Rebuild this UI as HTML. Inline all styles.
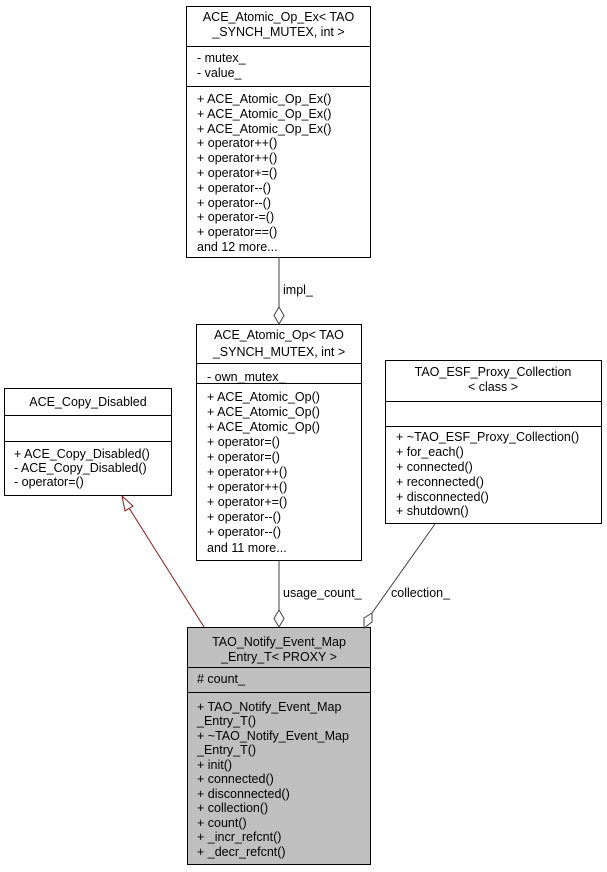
<!DOCTYPE html>
<html><head><meta charset="utf-8"><style>
html,body{margin:0;padding:0;background:#fff;}
svg{display:block;}
text{font-family:"Liberation Sans",Arial,sans-serif;font-size:12.5px;fill:#000;}
</style></head><body>
<svg width="607" height="872" viewBox="0 0 607 872" xmlns="http://www.w3.org/2000/svg">
<g stroke="#000" stroke-width="1" fill="#fff">
<!-- top box -->
<rect x="186.5" y="6.5" width="184" height="251"/>
<line x1="186.5" y1="46.5" x2="370.5" y2="46.5"/>
<line x1="186.5" y1="86.5" x2="370.5" y2="86.5"/>
<!-- middle box -->
<rect x="196.5" y="324.5" width="165" height="236"/>
<line x1="196.5" y1="363.5" x2="361.5" y2="363.5"/>
<line x1="196.5" y1="383.5" x2="361.5" y2="383.5"/>
<!-- copy disabled -->
<rect x="4.5" y="388.5" width="167" height="107"/>
<line x1="4.5" y1="415.5" x2="171.5" y2="415.5"/>
<line x1="4.5" y1="441.5" x2="171.5" y2="441.5"/>
<!-- proxy collection -->
<rect x="385.5" y="360.5" width="216" height="163"/>
<line x1="385.5" y1="401.5" x2="601.5" y2="401.5"/>
<line x1="385.5" y1="426.5" x2="601.5" y2="426.5"/>
<!-- bottom box -->
<rect x="187.5" y="627.5" width="183" height="237" fill="#bfbfbf"/>
<line x1="187.5" y1="667.5" x2="370.5" y2="667.5"/>
<line x1="187.5" y1="692.5" x2="370.5" y2="692.5"/>
</g>
<!-- connectors -->
<g stroke="#404040" fill="#fff" stroke-width="1">
<line x1="279" y1="257" x2="279" y2="307"/>
<polygon points="279,307 284,315.5 279,324 274,315.5"/>
<line x1="279" y1="561" x2="279" y2="610"/>
<polygon points="279,610 284,618.5 279,627 274,618.5"/>
<line x1="435" y1="524" x2="372" y2="613"/>
<polygon points="372,613 372,622 364,628 364,618"/>
</g>
<g stroke="#8b1a1a" fill="#fff" stroke-width="1">
<line x1="204" y1="627" x2="129" y2="508"/>
<polygon points="122,496 133,506 125,511"/>
</g>
<!-- top box text -->
<text x="278.5" y="21" text-anchor="middle">ACE_Atomic_Op_Ex&lt; TAO</text>
<text x="278.5" y="36" text-anchor="middle">_SYNCH_MUTEX, int &gt;</text>
<text x="197" y="62">- mutex_</text>
<text x="197" y="77">- value_</text>
<text x="197" y="103">+ ACE_Atomic_Op_Ex()</text>
<text x="197" y="118">+ ACE_Atomic_Op_Ex()</text>
<text x="197" y="133">+ ACE_Atomic_Op_Ex()</text>
<text x="197" y="147">+ operator++()</text>
<text x="197" y="162">+ operator++()</text>
<text x="197" y="177">+ operator+=()</text>
<text x="197" y="192">+ operator--()</text>
<text x="197" y="207">+ operator--()</text>
<text x="197" y="221">+ operator-=()</text>
<text x="197" y="236">+ operator==()</text>
<text x="197" y="251">and 12 more...</text>
<text x="283" y="294">impl_</text>
<!-- middle -->
<text x="279" y="339" text-anchor="middle">ACE_Atomic_Op&lt; TAO</text>
<text x="279" y="356" text-anchor="middle">_SYNCH_MUTEX, int &gt;</text>
<text x="207" y="381">- own_mutex_</text>
<text x="207" y="401">+ ACE_Atomic_Op()</text>
<text x="207" y="416">+ ACE_Atomic_Op()</text>
<text x="207" y="431">+ ACE_Atomic_Op()</text>
<text x="207" y="446">+ operator=()</text>
<text x="207" y="461">+ operator=()</text>
<text x="207" y="476">+ operator++()</text>
<text x="207" y="491">+ operator++()</text>
<text x="207" y="506">+ operator+=()</text>
<text x="207" y="521">+ operator--()</text>
<text x="207" y="536">+ operator--()</text>
<text x="207" y="552">and 11 more...</text>
<!-- copy disabled -->
<text x="88" y="406" text-anchor="middle">ACE_Copy_Disabled</text>
<text x="14" y="458">+ ACE_Copy_Disabled()</text>
<text x="14" y="472">- ACE_Copy_Disabled()</text>
<text x="14" y="486">- operator=()</text>
<!-- proxy -->
<text x="493" y="376" text-anchor="middle">TAO_ESF_Proxy_Collection</text>
<text x="493" y="391" text-anchor="middle">&lt; class &gt;</text>
<text x="396" y="441">+ ~TAO_ESF_Proxy_Collection()</text>
<text x="396" y="456">+ for_each()</text>
<text x="396" y="471">+ connected()</text>
<text x="396" y="486">+ reconnected()</text>
<text x="396" y="501">+ disconnected()</text>
<text x="396" y="515">+ shutdown()</text>
<!-- labels -->
<text x="283" y="597">usage_count_</text>
<text x="391" y="597">collection_</text>
<!-- bottom -->
<text x="279" y="646" text-anchor="middle">TAO_Notify_Event_Map</text>
<text x="279" y="661" text-anchor="middle">_Entry_T&lt; PROXY &gt;</text>
<text x="197" y="683"># count_</text>
<text x="197" y="711">+ TAO_Notify_Event_Map</text>
<text x="197" y="725">_Entry_T()</text>
<text x="197" y="740">+ ~TAO_Notify_Event_Map</text>
<text x="197" y="754">_Entry_T()</text>
<text x="197" y="769">+ init()</text>
<text x="197" y="783">+ connected()</text>
<text x="197" y="798">+ disconnected()</text>
<text x="197" y="812">+ collection()</text>
<text x="197" y="827">+ count()</text>
<text x="197" y="841">+ _incr_refcnt()</text>
<text x="197" y="856">+ _decr_refcnt()</text>
</svg>
</body></html>
